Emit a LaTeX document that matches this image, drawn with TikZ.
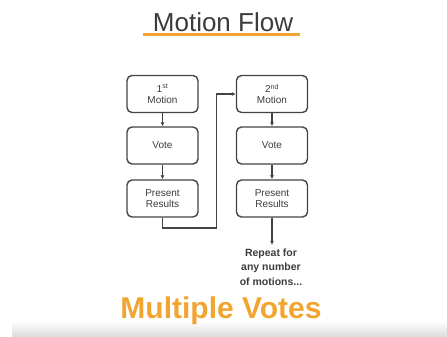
\documentclass[tikz,border=0pt]{standalone}
\usepackage{fontspec}
\setmainfont{Liberation Sans}
\usetikzlibrary{arrows.meta}

\definecolor{flowgray}{HTML}{3C3C3C}
\definecolor{flowline}{HTML}{444444}
\definecolor{flowgold}{HTML}{F2A431}

\tikzset{
	stepbox/.style={draw=flowline, line width=1.4pt, rounded corners=5pt, fill=white,
		minimum width=71pt, minimum height=37pt, align=center, text=flowgray,
		font=\fontsize{10}{11}\selectfont},
	flow/.style={draw=flowline, line width=1.2pt, -{Latex[length=4pt,width=4pt]}},
}

\begin{document}
\begin{tikzpicture}[x=1pt,y=-1pt]
	\useasboundingbox (0,0) rectangle (447,337);
	% faint band at the bottom
	\shade[top color=white, bottom color=black!14] (12,321) rectangle (447,337);
	% title
	\node (title) at (223,22) {\fontsize{26}{28}\selectfont\color{flowgray}Motion Flow};
	\draw[flowgold, line width=3pt] (143,35) -- (300,35);
	% first motion
	\node[stepbox] (mot1) at (162.5,94)  {1\textsuperscript{st}\\Motion};
	\node[stepbox] (vot1) at (162.5,145.5) {Vote};
	\node[stepbox] (res1) at (162.5,198.5) {Present\\Results};
	% second motion
	\node[stepbox] (mot2) at (272,94)  {2\textsuperscript{nd}\\Motion};
	\node[stepbox] (vot2) at (272,145.5) {Vote};
	\node[stepbox] (res2) at (272,198.5) {Present\\Results};
	\coordinate (turn) at (216.5,228);
	\node[align=center, text=flowgray, font=\fontsize{10.5}{14.5}\bfseries\selectfont, anchor=north]
		(rep) at (271,245) {Repeat for\\any number\\of motions...};
	% connectors
	\draw[flow] (mot1) -- (vot1);
	\draw[flow] (vot1) -- (res1);
	\draw[flow] (mot2) -- (vot2);
	\draw[flow] (vot2) -- (res2);
	\draw[flow] (res1.south) |- (turn) |- (mot2.west);
	\draw[flow] (res2.south) -- (res2.south |- rep.north);
	% footer
	\node (votes) at (221,311) {\fontsize{30}{32}\bfseries\selectfont\color{flowgold}Multiple Votes};
\end{tikzpicture}
\end{document}
